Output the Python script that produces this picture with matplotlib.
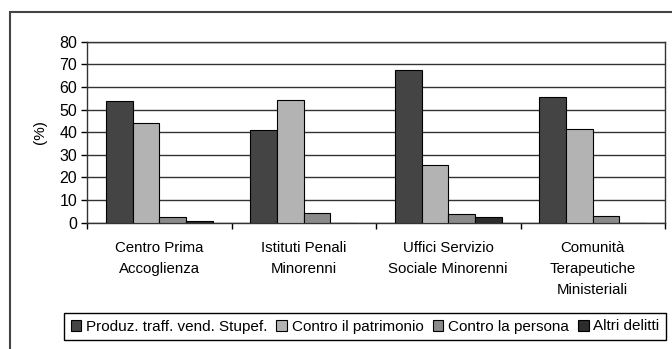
import numpy as np
import matplotlib.pyplot as plt
from matplotlib.patches import Rectangle

plt.rcParams['font.family'] = ['Liberation Sans', 'DejaVu Sans']

categorie = ['Centro Prima\nAccoglienza', 'Istituti Penali\nMinorenni',
             'Uffici Servizio\nSociale Minorenni', 'Comunità\nTerapeutiche\nMinisteriali']
serie = ['Produz. traff. vend. Stupef.', 'Contro il patrimonio',
         'Contro la persona', 'Altri delitti']
stupefacenti = [53.8, 40.8, 67.3, 55.4]
patrimonio = [44.1, 54.1, 25.6, 41.5]
persona = [2.5, 4.4, 3.7, 3.0]
altri = [0.6, 0.0, 2.4, 0.0]
valori = [stupefacenti, patrimonio, persona, altri]
colori = ['#444444', '#b3b3b3', '#8a8a8a', '#2c2c2c']

fig = plt.figure(figsize=(6.72, 3.49), dpi=100)
ax = fig.add_axes([87/672, 1-222.7/349, (665-87)/672, (222.7-41.7)/349])

x = np.arange(len(categorie))
w = 0.185
for i, (v, c, s) in enumerate(zip(valori, colori, serie)):
    ax.bar(x + (i - 1.5)*w, v, w, color=c, edgecolor='black', linewidth=0.8,
           label=s, zorder=3)

ax.set_xlim(-0.5, 3.5)
ax.set_ylim(0, 80)
ax.set_yticks(range(0, 81, 10))
ax.yaxis.grid(True, color='#333333', linewidth=1.0, zorder=0)
ax.tick_params(axis='y', labelsize=11.5, length=4, width=1, colors='black', pad=3)
ax.set_ylabel('(%)', fontsize=11, labelpad=9)

# separator ticks between groups, names centred under each group
ax.set_xticks(np.arange(-0.5, 4, 1))
ax.set_xticklabels([])
ax.tick_params(axis='x', which='major', length=4, width=1, direction='out')
ax.set_xticks(x, minor=True)
ax.set_xticklabels(categorie, minor=True, fontsize=10.8, linespacing=1.65)
ax.tick_params(axis='x', which='minor', length=0, pad=13)

for sp in ax.spines.values():
    sp.set_color('#333333')
    sp.set_linewidth(1.0)

leg = fig.legend(loc='center', bbox_to_anchor=(365/672, 1-326.5/349), ncol=4,
                 fontsize=11, handlelength=0.7, handleheight=0.7,
                 handletextpad=0.3, columnspacing=0.6, borderpad=0.45,
                 fancybox=False, edgecolor='black', framealpha=1)
leg.get_frame().set_linewidth(1.0)

# outer frame around the whole chart area
fig.patches.append(Rectangle((10/672, -0.2), 1.2, 1.2 - 12/349, fill=False,
                             edgecolor='#444444', linewidth=1.5,
                             transform=fig.transFigure, figure=fig))

fig.savefig('out.png', dpi=100, facecolor='white')
